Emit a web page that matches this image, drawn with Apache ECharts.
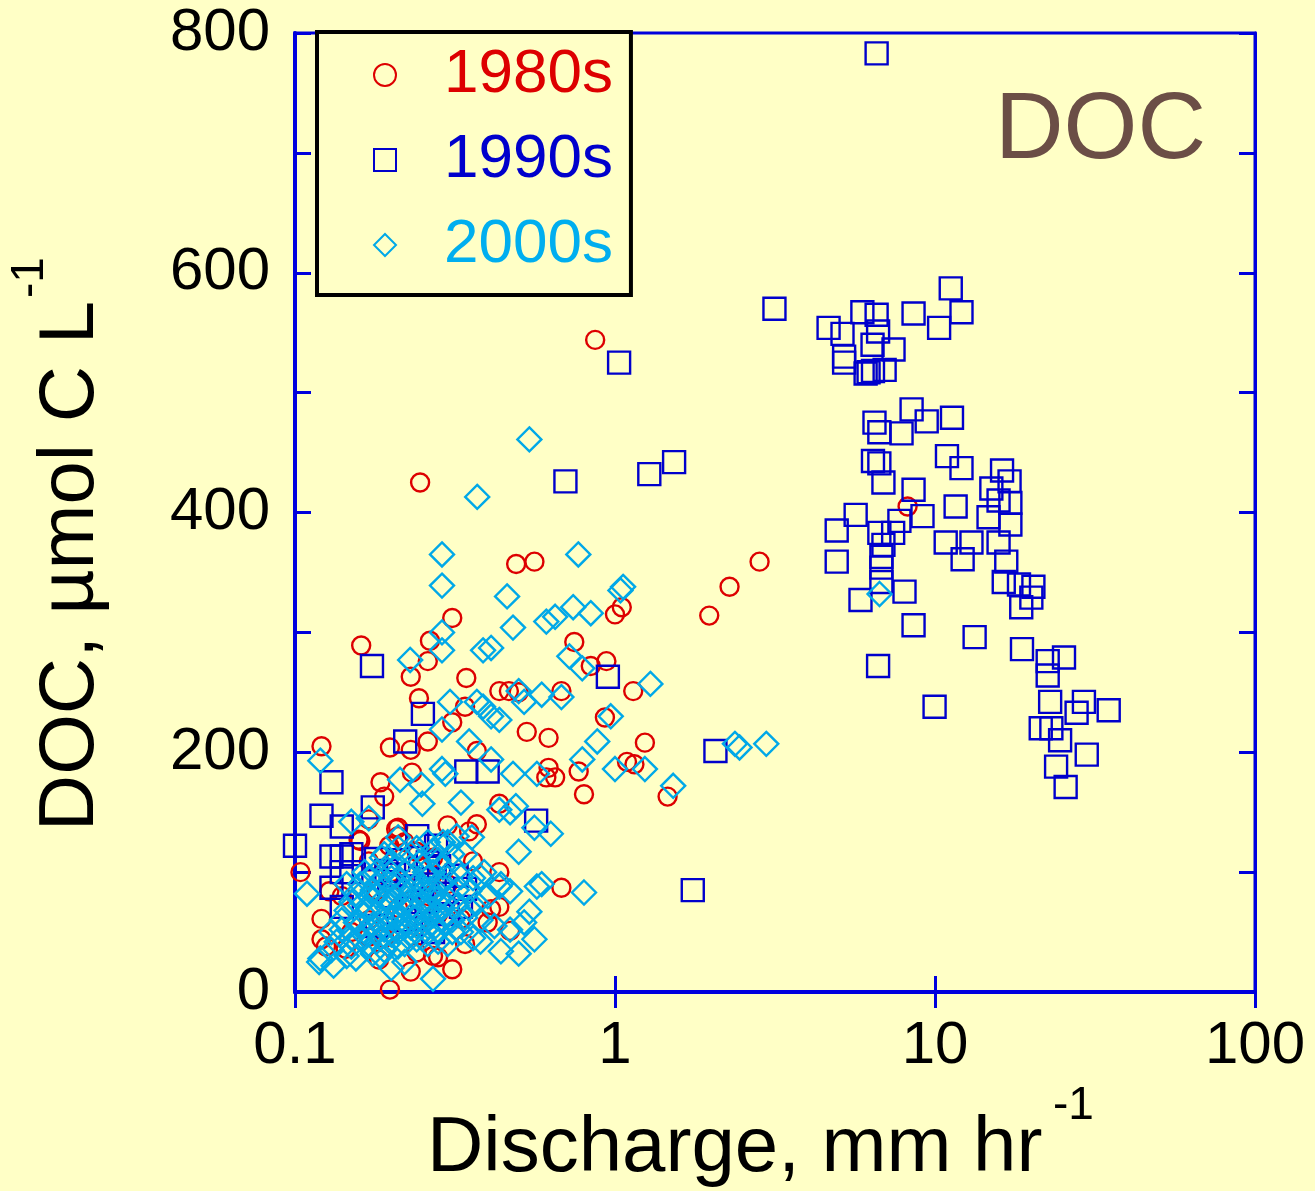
<!DOCTYPE html>
<html><head><meta charset="utf-8">
<script src="https://cdn.jsdelivr.net/npm/echarts@6/dist/echarts.min.js"></script>
<style>html,body{margin:0;padding:0;background:#ffffc6;} #c{width:1315px;height:1191px;}</style>
</head><body><div id="c"></div>
<script>
const seriesNames = ['1980s', '1990s', '2000s'];
const xTicks = [0.1, 1, 10, 100];
const yTicks = [0, 200, 400, 600, 800];
const xTitle = 'Discharge, mm hr';
const yTitle = 'DOC, \u00b5mol C L';
const panelLabel = 'DOC';

const pts1980s = [
[0.867,544],[0.246,425],[0.491,357],[0.56,359],[2.83,359],[2.28,338],[1.97,314],[8.21,405],[1.0,315],[1.05,321],
[0.746,292],[0.84,272],[0.94,276],[1.14,251],[0.68,251],[0.31,312],[0.161,289],[0.264,293],[0.26,276],[0.23,263],
[0.244,245],[0.343,262],[0.34,238],[0.31,225],[0.26,209],[0.37,201],[0.435,251],[0.466,251],[0.50,250],[0.93,229],
[0.53,217],[0.62,212],[1.24,208],[1.09,192],[1.15,190],[0.62,187],[0.65,179],[0.61,179],[0.77,184],[0.80,165],
[1.46,163],[0.121,205],[0.198,204],[0.23,202],[0.232,183],[0.185,175],[0.19,163],[0.207,136],[0.21,130],[0.16,126],
[0.104,100],[0.198,2],[0.31,19],[0.23,17],[0.28,29],[0.30,139],[0.37,140],[0.35,134],[0.36,109],[0.435,100],
[0.41,69],[0.435,71],[0.40,58],[0.47,51],[0.34,40],[0.68,87],[0.435,157],[0.17,144],[0.21,137],[0.158,127],
[0.197,122],[0.17,109],[0.128,84],[0.121,61],[0.121,44],[0.125,38],[0.14,80],[0.183,27],[0.24,33],[0.27,30],
[0.17,46],[0.144,36],[0.33,61],[0.17,60],[0.19,45],[0.21,70],[0.22,90],[0.24,55],[0.26,80],[0.28,65],
[0.15,50],[0.20,100],[0.25,105],[0.30,90],[0.18,85],[0.22,125],[0.24,117],[0.27,112]
];

const pts1990s = [
[6.57,783],[3.15,570],[1.03,525],[0.70,426],[1.28,432],[1.53,442],[2.06,201],[1.75,85],[0.95,263],[0.343,184],
[0.40,184],[0.567,143],[0.174,272],[0.251,232],[0.221,209],[0.130,175],[0.121,147],[0.100,122],[0.130,113],[0.140,138],
[0.175,154],[0.241,130],[0.140,113],[0.150,115],[0.150,100],[0.130,87],[0.140,100],[0.276,122],[0.179,111],[0.193,101],
[0.282,105],[0.204,98],[0.32,97],[0.34,86],[0.33,71],[0.14,71],[0.256,94],[0.197,80],[0.22,60],[0.25,75],
[0.30,65],[0.18,55],[0.27,50],[0.23,88],[0.21,110],[0.26,108],[0.29,82],
[11.2,587],[5.93,567],[6.57,565],[8.57,566],[12.1,567],[4.65,554],[5.14,549],[6.64,551],[10.3,554],[6.38,540],
[7.42,536],[5.2,530],[5.2,525],[6.07,516],[6.4,518],[6.96,519],[6.2,517],
[8.45,486],[6.47,475],[6.7,467],[9.42,476],[11.3,479],[7.86,466],[6.4,443],[6.7,441],[6.9,425],[10.9,447],
[12.1,437],[16.2,435],[17.1,426],[15.0,420],[15.8,410],[17.2,408],[8.57,419],[5.65,398],[4.93,385],[7.74,393],
[9.14,397],[11.6,405],[14.7,396],[17.2,390],[6.7,383],[7.4,383],[10.8,375],[13.0,375],[15.8,375],[6.9,373],
[4.93,359],[6.8,363],[6.8,354],[6.8,342],[5.85,327],[8.03,334],[8.57,306],[6.64,272],[9.97,238],[12.2,361],
[16.7,359],[16.4,342],[18.3,340],[20.3,338],[20.0,329],[18.6,321],[13.3,296],[18.7,286],[22.5,276],[25.3,279],
[22.5,264],[22.9,242],[29.2,242],[34.9,235],[27.7,233],[21.4,220],[23.1,220],[24.6,210],[29.8,198],[23.9,188],
[25.6,171]
];

const pts2000s = [
[0.54,461],[0.371,413],[0.288,365],[0.288,339],[0.768,365],[1.06,338],[1.04,335],[0.46,330],[0.74,321],[0.84,316],
[0.61,309],[0.65,313],[0.48,304],[0.288,300],[0.288,285],[0.229,277],[0.387,285],[0.41,287],[0.72,280],[0.79,270],
[1.29,257],[0.305,242],[0.37,242],[0.387,238],[0.41,230],[0.435,227],[0.50,251],[0.59,248],[0.52,242],[0.68,246],
[0.288,219],[0.35,209],[0.41,194],[0.288,186],[0.295,182],[0.48,182],[0.57,182],[0.79,194],[0.88,209],[0.97,230],
[0.12,193],[0.213,177],[0.248,173],[1.24,186],[1.52,172],[2.37,207],[2.45,204],[2.97,207],[1.0,186],[6.71,332],
[0.33,158],[0.435,152],[0.47,150],[0.49,155],[0.56,137],[0.63,132],[0.50,117],[0.59,90],[0.57,88],[0.80,83],
[0.38,96],[0.435,88],[0.47,84],[0.54,67],[0.52,58],[0.47,52],[0.56,44],[0.50,32],[0.44,34],[0.38,42],
[0.357,129],[0.30,125],[0.32,130],[0.25,157],[0.15,142],[0.17,145],[0.109,82],[0.119,25],[0.132,22],[0.27,11],
[0.187,112],[0.21,129],
[0.14,60],[0.15,45],[0.15,75],[0.16,55],[0.16,90],[0.17,40],[0.17,70],[0.18,50],[0.18,80],[0.18,100],
[0.19,60],[0.19,35],[0.20,75],[0.20,95],[0.21,50],[0.21,65],[0.22,85],[0.22,40],[0.23,70],[0.23,105],
[0.24,55],[0.24,90],[0.25,45],[0.25,75],[0.26,60],[0.26,95],[0.27,80],[0.28,50],[0.28,110],[0.29,70],
[0.30,40],[0.30,95],[0.31,60],[0.32,85],[0.33,50],[0.34,115],[0.35,70],[0.36,95],[0.13,35],[0.13,50],
[0.12,28],[0.145,30],[0.20,20],[0.22,25],[0.17,95],[0.19,115],[0.21,120],[0.24,120],[0.26,125],[0.29,125],
[0.31,115],[0.165,65],[0.175,85],[0.185,45],[0.195,70],[0.205,88],[0.215,55],[0.225,75],[0.235,62],[0.245,82],
[0.255,100],[0.265,70],[0.275,55],[0.285,90],[0.295,58],[0.38,60],[0.40,80],[0.42,55],[0.44,90],[0.36,45],
[0.39,100],
[0.135,42],[0.14,52],[0.145,68],[0.15,38],[0.155,58],[0.155,82],[0.16,44],[0.16,72],[0.165,50],[0.17,80],
[0.175,56],[0.175,32],[0.18,66],[0.18,42],[0.185,92],[0.19,52],[0.19,78],[0.195,40],[0.195,102],[0.20,62],
[0.20,48],[0.205,80],[0.21,38],[0.21,94],[0.215,72],[0.22,58],[0.22,100],[0.225,46],[0.23,84],[0.23,54],
[0.235,96],[0.24,68],[0.24,44],[0.245,108],[0.25,60],[0.25,88],[0.255,52],[0.26,72],[0.26,40],[0.265,86],
[0.27,64],[0.27,100],[0.28,78],[0.28,42],[0.29,60],[0.29,104],[0.30,78],[0.31,50],[0.32,72],[0.33,96],
[0.34,62],[0.35,84],[0.37,74],[0.145,90],[0.165,100],[0.2,108],[0.23,115],[0.27,118],[0.155,28],[0.185,30]
];

const BG = '#ffffc6';
const AX = '#0000dd';
const RED = '#dd0000';
const BLUE = '#0000cc';
const CYAN = '#00a8e8';
const FONT = '"Liberation Sans", Arial, Helvetica, sans-serif';

function sc(name, pts, symbol, size, color) {
  return {
    name: name, type: 'scatter', data: pts, symbol: symbol, symbolSize: size,
    xAxisIndex: 0, yAxisIndex: 0, silent: true, clip: false,
    itemStyle: { color: 'rgba(0,0,0,0)', borderColor: color, borderWidth: 2.4, opacity: 1 },
    emphasis: { disabled: true }
  };
}

function xAx(pos, main) {
  return {
    type: 'log', logBase: 10, min: xTicks[0], max: xTicks[xTicks.length - 1], position: pos,
    axisLine: { show: true, lineStyle: { color: AX, width: main ? 4 : 3 } },
    axisTick: { show: true, inside: true, length: 16, lineStyle: { color: AX, width: 3 } },
    minorTick: { show: false }, splitLine: { show: false },
    axisLabel: { show: main, margin: 24, color: '#000', fontSize: 60, fontFamily: FONT,
      formatter: function (v) { return String(+(+v).toPrecision(3)); } }
  };
}
function yAx(pos, main) {
  return {
    type: 'value', min: yTicks[0], max: yTicks[yTicks.length - 1], interval: 100, position: pos,
    axisLine: { show: true, lineStyle: { color: AX, width: main ? 4 : 3 } },
    axisTick: { show: true, inside: true, length: 16, lineStyle: { color: AX, width: 3 } },
    splitLine: { show: false },
    axisLabel: { show: main, margin: 25, color: '#000', fontSize: 60, fontFamily: FONT,
      formatter: function (v) { return yTicks.indexOf(v) >= 0 ? String(v) : ''; } }
  };
}

const colors = [RED, BLUE, CYAN];
const textColors = [RED, BLUE, '#00aeef'];
const icons = ['circle', 'rect', 'diamond'];

const chart = echarts.init(document.getElementById('c'), null, { renderer: 'canvas' });
chart.setOption({
  backgroundColor: BG,
  animation: false,
  grid: { left: 295, right: 60, top: 33, bottom: 199, show: true, borderColor: AX, borderWidth: 3, backgroundColor: 'rgba(0,0,0,0)' },
  xAxis: [xAx('bottom', true), xAx('top', false)],
  yAxis: [yAx('left', true), yAx('right', false)],
  legend: {
    orient: 'vertical', left: 317, top: 32,
    padding: [12, 18, 19, 56],
    itemWidth: 22, itemHeight: 22, itemGap: 23,
    borderColor: '#000', borderWidth: 4, borderRadius: 0, backgroundColor: BG,
    selectedMode: false,
    textStyle: { fontSize: 62, lineHeight: 62, fontFamily: FONT, padding: [0, 0, 0, 43] },
    data: seriesNames.map(function (n, i) {
      return { name: n, icon: icons[i],
        itemStyle: { color: 'rgba(0,0,0,0)', borderColor: colors[i], borderWidth: 2 },
        textStyle: { color: textColors[i] } };
    })
  },
  series: [
    sc(seriesNames[0], pts1980s, 'circle', 18, RED),
    sc(seriesNames[1], pts1990s, 'rect', 22, BLUE),
    sc(seriesNames[2], pts2000s, 'diamond', 24, CYAN)
  ],
  graphic: [
    { type: 'text', x: 427, y: 1149, z: 10,
      style: { text: xTitle, fontSize: 78, fontFamily: FONT, fill: '#000', align: 'left', verticalAlign: 'middle' } },
    { type: 'text', x: 1053, y: 1106, z: 10,
      style: { text: '-1', fontSize: 46, fontFamily: FONT, fill: '#000', align: 'left', verticalAlign: 'middle' } },
    { type: 'text', x: 71, y: 566, rotation: Math.PI / 2, z: 10,
      style: { text: yTitle, fontSize: 78, fontFamily: FONT, fill: '#000', align: 'center', verticalAlign: 'middle' } },
    { type: 'text', x: 30, y: 298, rotation: Math.PI / 2, z: 10,
      style: { text: '-1', fontSize: 46, fontFamily: FONT, fill: '#000', align: 'left', verticalAlign: 'middle' } },
    { type: 'text', x: 995, y: 132, z: 10,
      style: { text: panelLabel, fontSize: 95, fontFamily: FONT, fill: '#6b4e46', align: 'left', verticalAlign: 'middle' } }
  ]
});
</script>
</body></html>
